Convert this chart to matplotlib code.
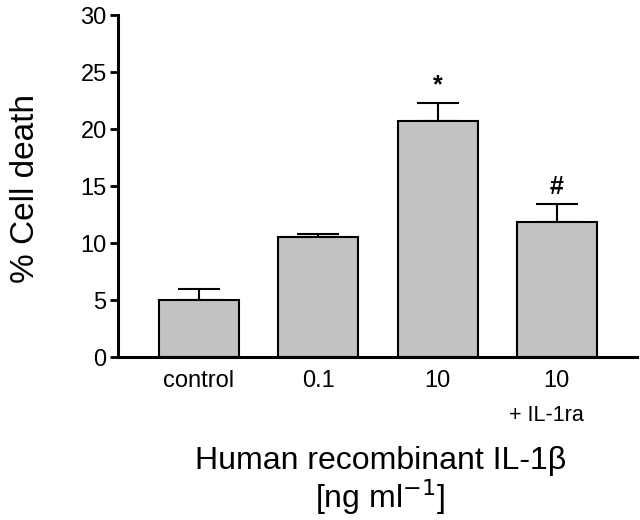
import matplotlib
matplotlib.use("Agg")
import matplotlib.pyplot as plt
import numpy as np

plt.rcParams['font.family'] = ['Liberation Sans', 'DejaVu Sans']

# data
groups = ["control", "0.1", "10", "10"]
cell_death = [5.0, 10.5, 20.7, 11.9]
sem = [1.0, 0.3, 1.6, 1.5]
marks = ["", "", "*", "#"]

fig = plt.figure(figsize=(6.4, 5.2), dpi=100)
ax = fig.add_axes([0.184, 0.313, 0.811, 0.658])

x = np.arange(len(groups))
ax.bar(x, cell_death, width=0.67, color="#c2c2c2", edgecolor="black", linewidth=1.5, zorder=2)
ax.errorbar(x, cell_death, yerr=[np.zeros(len(sem)), sem], fmt="none",
            ecolor="black", elinewidth=1.5, capsize=15, capthick=1.5, zorder=1)

for xi, v, e, m in zip(x, cell_death, sem, marks):
    if m:
        ax.text(xi, v + e + 0.5, m, ha="center", va="bottom", fontsize=18, fontweight="bold")

ax.set_xlim(-0.68, 3.67)
ax.set_ylim(0, 30)
ax.set_yticks(np.arange(0, 31, 5))
ax.set_xticks(x)
ax.set_xticklabels(groups, fontsize=17)
ax.tick_params(axis="x", length=0, pad=9)
ax.tick_params(axis="y", length=6, width=2, labelsize=17, pad=2)
ax.text(x[3] - 0.09, -5.1, "+ IL-1ra", ha="center", va="center", fontsize=15.5)

for s in ["top", "right"]:
    ax.spines[s].set_visible(False)
for s in ["left", "bottom"]:
    ax.spines[s].set_linewidth(2.2)

ax.set_ylabel("% Cell death", fontsize=24, va="center")
ax.yaxis.set_label_coords(-0.177, 0.494)
fig.text(0.594, 0.113, "Human recombinant IL-1\u03b2", ha="center", va="center", fontsize=23)
fig.text(0.594, 0.044, "[ng ml$^{-1}$]", ha="center", va="center", fontsize=23)

fig.savefig("out.png", dpi=100)
